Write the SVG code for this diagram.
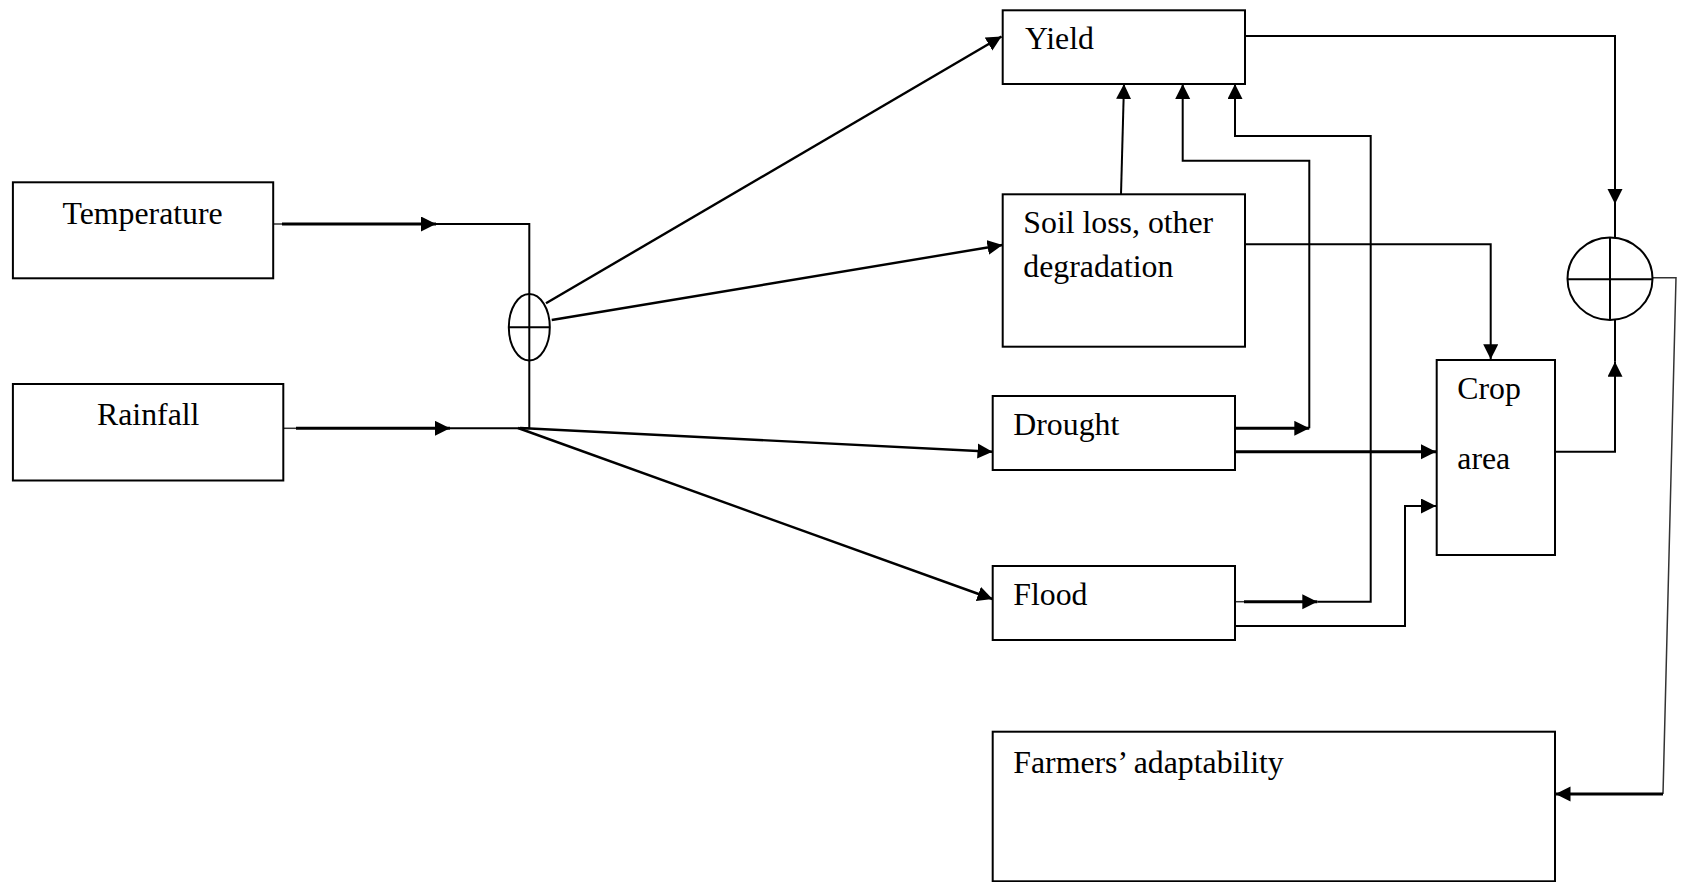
<svg xmlns="http://www.w3.org/2000/svg" width="1681" height="882" viewBox="0 0 1681 882">
<style>
.box{fill:#fff;stroke:#000;stroke-width:2}
.lbl{font-family:"Liberation Serif","Times New Roman",serif;font-size:31.8px;fill:#000}
.ln{fill:none;stroke:#000;stroke-width:2}
.dg{fill:none;stroke:#000;stroke-width:2.4}
.thin{fill:none;stroke:#333;stroke-width:1.5}
.thk{fill:none;stroke:#000;stroke-width:3}
.arr{marker-end:url(#ah)}
</style>
<defs>
<marker id="ah" markerUnits="userSpaceOnUse" markerWidth="16" markerHeight="16" refX="15" refY="7.5" orient="auto">
<path d="M0,0 L15,7.5 L0,15 z" fill="#000"/>
</marker>
</defs>
<rect width="1681" height="882" fill="#fff"/>
<g id="connectors">
<path class="thin" d="M273,224 H282"/>
<path class="thk arr" d="M282,224 H436"/>
<path class="ln" d="M436,224 H529.3 V428.3"/>
<path class="thin" d="M283,428.3 H296"/>
<path class="thk arr" d="M296,428.3 H450"/>
<path class="ln" d="M450,428.3 H529.3"/>
<path class="dg arr" d="M546,303.3 L1001.5,36.5"/>
<path class="dg arr" d="M551.7,320 L1002.5,245"/>
<path class="dg arr" d="M520,428 L992.5,451.7"/>
<path class="dg arr" d="M518,428 L992.5,599"/>
<path class="ln arr" d="M1245,36 H1615 V204"/>
<path class="ln" d="M1615,204 V238"/>
<path class="ln arr" d="M1121,194.3 L1124,84"/>
<path class="thk arr" d="M1235,428.3 H1309.3"/>
<path class="ln arr" d="M1309.3,428.3 V160.7 H1182.7 V84"/>
<path class="thin" d="M1235,601.7 H1244"/>
<path class="thk arr" d="M1244,601.7 H1317.3"/>
<path class="ln arr" d="M1317.3,601.7 H1370.7 V136 H1235 V84"/>
<path class="ln arr" d="M1245,244.3 H1490.7 V359.3"/>
<path class="thk arr" d="M1235,451.7 H1436"/>
<path class="ln arr" d="M1235,626 H1405 V506 H1436"/>
<path class="ln arr" d="M1555,451.7 H1615 V361.7"/>
<path class="ln" d="M1615,361.7 V320"/>
<path class="thin" d="M1652,277.7 H1676 L1663,794"/>
<path class="thk arr" d="M1663,794 H1555.5"/>
</g>
<g id="sum1">
<ellipse cx="529.3" cy="327.3" rx="20.5" ry="33.3" fill="none" stroke="#000" stroke-width="2"/>
<path class="ln" d="M509,327.3 H550"/>
</g>
<g id="sum2">
<ellipse cx="1610" cy="278.7" rx="42.5" ry="41.3" fill="none" stroke="#000" stroke-width="2"/>
<path class="ln" d="M1567.5,279.3 H1652.5 M1610,237.4 V320"/>
</g>
<g id="temperature">
<rect class="box" x="12.9" y="182.3" width="260.3" height="96"/>
<text class="lbl" x="62.5" y="224">Temperature</text>
</g>
<g id="rainfall">
<rect class="box" x="12.9" y="384" width="270.4" height="96.5"/>
<text class="lbl" x="97" y="425">Rainfall</text>
</g>
<g id="yield">
<rect class="box" x="1002.7" y="10.3" width="242.3" height="73.7"/>
<text class="lbl" x="1025" y="49.3">Yield</text>
</g>
<g id="soil">
<rect class="box" x="1002.7" y="194.3" width="242.3" height="152.4"/>
<text class="lbl" x="1023.3" y="233">Soil loss, other</text>
<text class="lbl" x="1023.3" y="276.7">degradation</text>
</g>
<g id="drought">
<rect class="box" x="992.7" y="396" width="242.3" height="74"/>
<text class="lbl" x="1013.3" y="435">Drought</text>
</g>
<g id="flood">
<rect class="box" x="992.7" y="566" width="242.3" height="74"/>
<text class="lbl" x="1013.3" y="605">Flood</text>
</g>
<g id="croparea">
<rect class="box" x="1436.7" y="360" width="118.3" height="195"/>
<text class="lbl" x="1457.3" y="399.3">Crop</text>
<text class="lbl" x="1457.3" y="469.3">area</text>
</g>
<g id="farmers">
<rect class="box" x="992.7" y="731.7" width="562.3" height="149.6"/>
<text class="lbl" x="1013.3" y="773.3">Farmers’ adaptability</text>
</g>
</svg>
